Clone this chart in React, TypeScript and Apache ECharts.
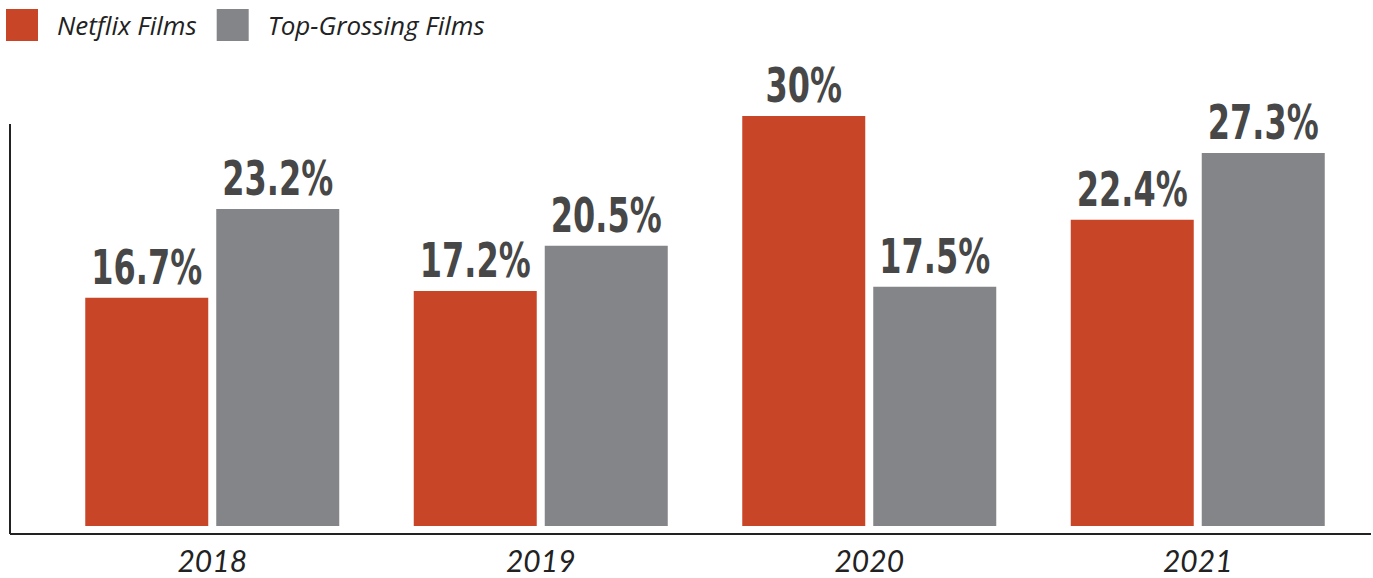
import React, { useEffect, useRef } from "react";
import * as echarts from "echarts";

const years = ["2018", "2019", "2020", "2021"];
const netflixFilms = [16.7, 17.2, 30, 22.4];
const topGrossingFilms = [23.2, 20.5, 17.5, 27.3];
const seriesNames = ["Netflix Films", "Top-Grossing Films"];

const RED = "#C84627";
const GRAY = "#848589";
const LABEL_FONT = "'DejaVu Sans Condensed', 'DejaVu Sans', sans-serif";
const BAR_W = 123;
const BAR_GAP_PX = 8;

function labelSeries(name: string, values: number[], side: number) {
  return {
    name,
    type: "custom",
    silent: true,
    z: 5,
    data: values.map((v, i) => [i, v]),
    renderItem: (params: any, api: any) => {
      const idx = api.value(0);
      const val = api.value(1);
      const pt = api.coord([idx, val]);
      const x = pt[0] + side * (BAR_W + BAR_GAP_PX) / 2;
      return {
        type: "text",
        x,
        y: pt[1] - 6,
        scaleX: 0.74,
        style: {
          text: `${val}%`,
          x: 0,
          y: 0,
          align: "center",
          verticalAlign: "bottom",
          fontFamily: LABEL_FONT,
          fontWeight: "bold",
          fontSize: 48,
          fill: "#474747",
        },
      };
    },
  };
}

export default function App() {
  const ref = useRef<HTMLDivElement>(null);
  useEffect(() => {
    document.body.style.margin = "0";
    const chart = echarts.init(ref.current!, null, { renderer: "svg" });
    chart.setOption({
      animation: false,
      backgroundColor: "#ffffff",
      legend: {
        left: 6,
        top: 9,
        padding: 0,
        itemWidth: 32,
        itemHeight: 32,
        itemGap: 20,
        icon: "rect",
        data: seriesNames,
        textStyle: {
          fontFamily: "'Open Sans', sans-serif",
          fontStyle: "italic",
          fontSize: 26,
          color: "#222222",
          padding: [0, 0, 0, 14],
        },
      },
      grid: { left: 48, right: 11, top: 47.67, bottom: 52 },
      xAxis: {
        type: "category",
        data: years,
        axisLine: { show: false },
        axisTick: { show: false },
        axisLabel: {
          margin: 19,
          fontFamily: "Lato, sans-serif",
          fontStyle: "italic",
          fontSize: 30,
          color: "#222222",
        },
      },
      yAxis: {
        type: "value",
        min: 0,
        max: 35,
        show: false,
        splitLine: { show: false },
      },
      graphic: [
        {
          type: "line",
          shape: { x1: 10, y1: 124, x2: 10, y2: 534 },
          style: { stroke: "#222222", lineWidth: 2 },
          z: 10,
        },
        {
          type: "line",
          shape: { x1: 10, y1: 534, x2: 1371, y2: 534 },
          style: { stroke: "#222222", lineWidth: 2 },
          z: 10,
        },
      ],
      series: [
        {
          name: seriesNames[0],
          type: "bar",
          data: netflixFilms,
          barWidth: BAR_W,
          barGap: `${(BAR_GAP_PX / BAR_W) * 100}%`,
          itemStyle: { color: RED },
        },
        {
          name: seriesNames[1],
          type: "bar",
          data: topGrossingFilms,
          barWidth: BAR_W,
          barGap: `${(BAR_GAP_PX / BAR_W) * 100}%`,
          itemStyle: { color: GRAY },
        },
        labelSeries("netflix-labels", netflixFilms, -1),
        labelSeries("top-grossing-labels", topGrossingFilms, 1),
      ],
    });
    return () => chart.dispose();
  }, []);
  return <div ref={ref} style={{ width: 1373, height: 578 }} />;
}
